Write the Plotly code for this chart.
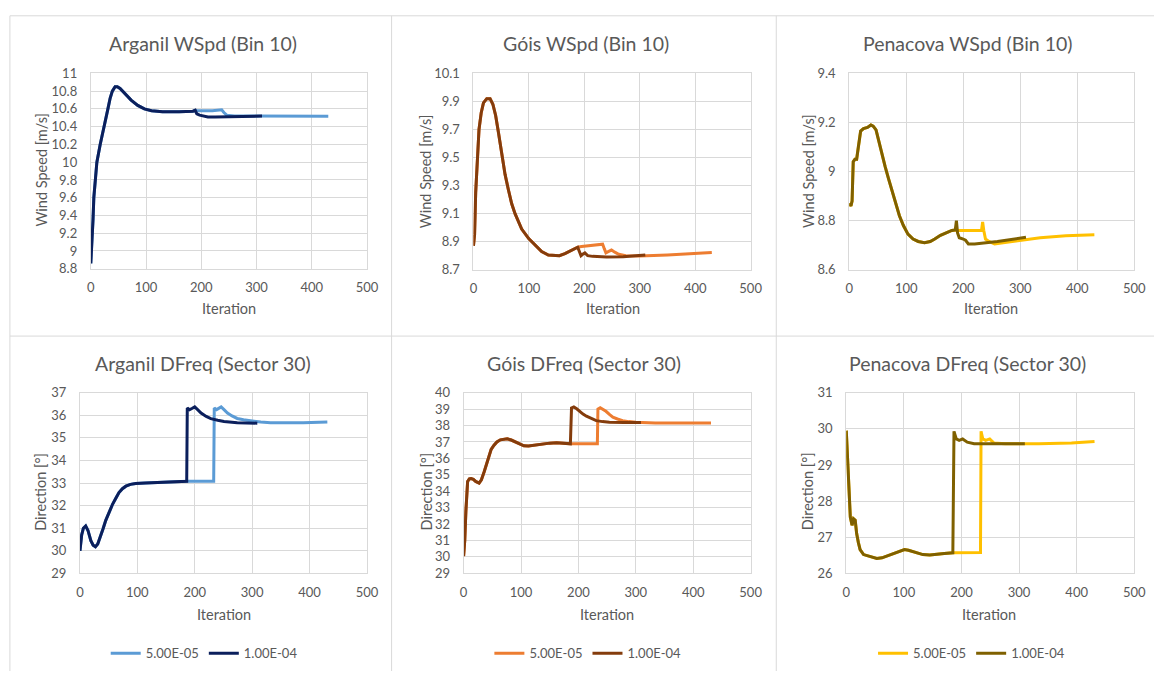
import plotly.graph_objects as go

W, H = 1166, 679

# ---------------- data ----------------
series_names = ["5.00E-05", "1.00E-04"]

# Arganil WSpd (Bin 10)
arg_ws_x = [0, 2, 4, 5.5, 8, 11, 17, 20, 24, 31, 35, 39, 44, 48, 53, 58, 65, 73, 85, 97, 110, 130, 160, 185, 189]
arg_ws_y = [8.86, 9.05, 9.35, 9.6, 9.8, 10.0, 10.2, 10.28, 10.4, 10.6, 10.72, 10.8, 10.85, 10.85, 10.83, 10.8,
            10.75, 10.7, 10.64, 10.6, 10.58, 10.568, 10.568, 10.575, 10.585]
arg_ws_lo_x = [192, 220, 233, 237, 241, 246, 260, 300, 350, 400, 430]
arg_ws_lo_y = [10.58, 10.58, 10.582, 10.59, 10.56, 10.53, 10.52, 10.52, 10.52, 10.518, 10.518]
arg_ws_hi_x = [192, 197, 205, 212, 225, 250, 280, 310]
arg_ws_hi_y = [10.545, 10.53, 10.52, 10.51, 10.51, 10.515, 10.52, 10.52]

# Góis WSpd (Bin 10)
gois_ws_x = [0, 2, 4, 7, 10, 14, 18, 24, 30, 35, 40, 45, 51, 57, 63, 69, 75, 87, 100, 112, 123, 135, 146, 155,
             165, 175, 183, 188]
gois_ws_y = [8.87, 8.95, 9.25, 9.5, 9.7, 9.82, 9.89, 9.92, 9.92, 9.88, 9.8, 9.68, 9.52, 9.38, 9.27, 9.17, 9.1,
             8.99, 8.92, 8.87, 8.83, 8.805, 8.8, 8.8, 8.815, 8.835, 8.85, 8.86]
gois_ws_lo_x = [195, 210, 233, 236, 239, 244, 249, 255, 262, 275, 300, 350, 400, 430]
gois_ws_lo_y = [8.865, 8.873, 8.882, 8.85, 8.82, 8.83, 8.84, 8.825, 8.81, 8.8, 8.797, 8.805, 8.815, 8.822]
gois_ws_hi_x = [190, 194, 197, 201, 206, 215, 240, 270, 310]
gois_ws_hi_y = [8.84, 8.8, 8.81, 8.82, 8.8, 8.795, 8.79, 8.792, 8.805]

# Penacova WSpd (Bin 10)
pen_ws_x = [0, 3, 5, 7, 10, 13, 16, 20, 25, 32, 38, 42, 47, 52, 57, 63, 69, 75, 81, 88, 95, 103, 112, 121, 132,
            142, 150, 160, 170, 180, 186]
pen_ws_y = [8.87, 8.86, 8.88, 9.04, 9.05, 9.05, 9.1, 9.165, 9.175, 9.18, 9.19, 9.185, 9.17, 9.12, 9.07, 9.02,
            8.97, 8.92, 8.87, 8.82, 8.78, 8.745, 8.725, 8.715, 8.71, 8.715, 8.725, 8.74, 8.75, 8.76, 8.762]
pen_ws_lo_x = [190, 232, 234, 236, 239, 245, 255, 270, 300, 335, 380, 430]
pen_ws_lo_y = [8.76, 8.76, 8.795, 8.76, 8.725, 8.715, 8.705, 8.71, 8.72, 8.73, 8.738, 8.742]
pen_ws_hi_x = [188, 190, 193, 200, 204, 209, 220, 260, 310]
pen_ws_hi_y = [8.8, 8.75, 8.73, 8.725, 8.72, 8.705, 8.705, 8.715, 8.732]

# Arganil DFreq (Sector 30)
arg_df_x = [0, 3, 6, 10, 14, 19, 23, 27, 31, 35, 40, 45, 51, 57, 63, 68, 74, 80, 88, 97, 114, 148, 186]
arg_df_y = [30.0, 30.7, 31.0, 31.1, 30.9, 30.45, 30.25, 30.18, 30.3, 30.55, 30.95, 31.35, 31.75, 32.07, 32.35,
            32.58, 32.75, 32.86, 32.94, 32.98, 33.0, 33.04, 33.08]
arg_df_lo_x = [233, 234, 238, 242, 246, 251, 257, 265, 274, 285, 297, 315, 332, 360, 389, 431]
arg_df_lo_y = [33.08, 36.32, 36.25, 36.3, 36.37, 36.25, 36.1, 35.97, 35.86, 35.8, 35.75, 35.7, 35.67, 35.66,
               35.67, 35.7]
arg_df_hi_x = [187, 191, 195, 200, 205, 211, 220, 228, 240, 251, 274, 309]
arg_df_hi_y = [36.32, 36.25, 36.3, 36.37, 36.25, 36.1, 35.95, 35.85, 35.78, 35.73, 35.67, 35.65]

# Góis DFreq (Sector 30)
gois_df_x = [0, 2, 4, 7, 10, 13, 17, 21, 27, 31, 36, 40, 44, 48, 53, 58, 64, 70, 76, 83, 90, 97, 105, 113, 122,
             130, 139, 150, 162, 175, 186]
gois_df_y = [30.05, 31.0, 32.8, 34.6, 34.75, 34.77, 34.72, 34.6, 34.5, 34.7, 35.2, 35.7, 36.2, 36.55, 36.8, 37.0,
             37.13, 37.18, 37.19, 37.12, 37.0, 36.86, 36.77, 36.75, 36.79, 36.85, 36.9, 36.93, 36.95, 36.92, 36.89]
gois_df_lo_x = [233, 234, 238, 243, 248, 254, 260, 268, 277, 288, 300, 334, 392, 431]
gois_df_lo_y = [36.89, 39.0, 39.09, 39.0, 38.87, 38.68, 38.51, 38.4, 38.3, 38.24, 38.2, 38.16, 38.16, 38.16]
gois_df_hi_x = [188, 192, 197, 202, 208, 214, 222, 231, 242, 254, 280, 309]
gois_df_hi_y = [39.07, 39.13, 39.02, 38.87, 38.7, 38.57, 38.42, 38.3, 38.24, 38.2, 38.18, 38.18]

# Penacova DFreq (Sector 30)
pen_df_x = [0, 2, 4, 7, 10, 12.6, 15.5, 18, 21, 24, 30, 41, 53, 62, 70, 80, 87, 95, 101, 108, 116, 125, 133,
            145, 156, 170, 185]
pen_df_y = [29.95, 29.2, 28.46, 27.56, 27.33, 27.51, 27.47, 27.1, 26.85, 26.66, 26.52, 26.46, 26.41, 26.43,
            26.48, 26.55, 26.59, 26.64, 26.66, 26.64, 26.6, 26.55, 26.52, 26.51, 26.52, 26.55, 26.57]
pen_df_lo_x = [233, 234, 237, 242, 249, 256, 276, 334, 391, 431]
pen_df_lo_y = [26.58, 29.93, 29.72, 29.68, 29.72, 29.61, 29.59, 29.59, 29.61, 29.65]
pen_df_hi_x = [187, 191, 196, 202, 210, 222, 248, 310]
pen_df_hi_y = [29.93, 29.72, 29.68, 29.72, 29.63, 29.59, 29.59, 29.59]

titles = ["Arganil WSpd (Bin 10)", "Góis WSpd (Bin 10)", "Penacova WSpd (Bin 10)",
          "Arganil DFreq (Sector 30)", "Góis DFreq (Sector 30)", "Penacova DFreq (Sector 30)"]
y_titles = ["Wind Speed [m/s]"] * 3 + ["Direction [°]"] * 3
x_title = "Iteration"
y_ranges = [(8.8, 11.0), (8.7, 10.1), (8.6, 9.4), (29, 37), (29, 40), (26, 31)]
y_dticks = [0.2, 0.2, 0.2, 1, 1, 1]
x_range = (0, 500)
x_dtick = 100

colors = [("#5B9BD5", "#0B1F5C"), ("#ED7D31", "#843C0C"), ("#FFC000", "#7F6000")] * 2

panel_data = [
    (arg_ws_x, arg_ws_y, arg_ws_lo_x, arg_ws_lo_y, arg_ws_hi_x, arg_ws_hi_y),
    (gois_ws_x, gois_ws_y, gois_ws_lo_x, gois_ws_lo_y, gois_ws_hi_x, gois_ws_hi_y),
    (pen_ws_x, pen_ws_y, pen_ws_lo_x, pen_ws_lo_y, pen_ws_hi_x, pen_ws_hi_y),
    (arg_df_x, arg_df_y, arg_df_lo_x, arg_df_lo_y, arg_df_hi_x, arg_df_hi_y),
    (gois_df_x, gois_df_y, gois_df_lo_x, gois_df_lo_y, gois_df_hi_x, gois_df_hi_y),
    (pen_df_x, pen_df_y, pen_df_lo_x, pen_df_lo_y, pen_df_hi_x, pen_df_hi_y),
]

# ---------------- layout geometry (pixels) ----------------
plot_boxes = [  # left, right, top, bottom
    (88, 368, 67, 267), (476, 757, 67, 268), (857, 1146, 67, 268),
    (77, 368, 394, 579), (466, 757, 394, 579), (854, 1146, 394, 579),
]
title_pos = [(202, 36), (590, 36), (977, 36), (202, 364), (588, 364), (977, 364)]
ytitle_pos = [(38, 165), (427, 167), (815, 167), (37, 495), (428, 495), (815, 495)]
xtitle_pos = [(228, 308), (617, 308), (1001, 308), (223, 621), (611, 621), (999, 621)]
legend_pos = [(203, 661), (592, 661), (981, 661)]

FONT = "Lato, 'Open Sans', sans-serif"
TXT = "#595959"
GRID = "#D9D9D9"


def px(x):
    return x / W


def py(y):
    return 1 - y / H


fig = go.Figure()
layout = dict(
    width=W, height=H, margin=dict(l=0, r=0, t=0, b=0),
    paper_bgcolor="white", plot_bgcolor="white",
    font=dict(family=FONT, color=TXT),
    annotations=[], shapes=[],
)

legend_keys = [None, None, None, "legend", "legend2", "legend3"]

for i in range(6):
    n = "" if i == 0 else str(i + 1)
    l, r, t, b = plot_boxes[i]
    cx, cy, lox, loy, hix, hiy = panel_data[i]
    light, dark = colors[i]
    for name, xs, ys, col in ((series_names[0], cx + lox, cy + loy, light),
                              (series_names[1], cx + hix, cy + hiy, dark)):
        tr = dict(x=xs, y=ys, mode="lines", name=name,
                  line=dict(color=col, width=3), xaxis="x" + n, yaxis="y" + n,
                  hoverinfo="skip")
        if legend_keys[i] is None:
            tr["showlegend"] = False
        else:
            tr["showlegend"] = True
            tr["legend"] = legend_keys[i]
        fig.add_trace(go.Scatter(**tr))

    common_axis = dict(showgrid=True, gridcolor=GRID, gridwidth=1, zeroline=False,
                       showline=True, linecolor=GRID, linewidth=1, mirror=True,
                       ticks="outside", tickcolor="rgba(0,0,0,0)",
                       tickfont=dict(size=13, color=TXT, family=FONT), fixedrange=True)
    layout["xaxis" + n] = dict(common_axis, domain=[px(l), px(r)], range=list(x_range), ticklen=7,
                               dtick=x_dtick, tick0=0, anchor="y" + n)
    lo, hi = y_ranges[i]
    layout["yaxis" + n] = dict(common_axis, domain=[py(b), py(t)], range=[lo, hi], ticklen=10,
                               dtick=y_dticks[i], tick0=lo, anchor="x" + n)

    tx, ty = title_pos[i]
    layout["annotations"].append(dict(text=titles[i], x=px(tx), y=py(ty), xref="paper", yref="paper",
                                      showarrow=False, xanchor="center", yanchor="middle",
                                      font=dict(size=19.5, color=TXT, family=FONT)))
    yx, yy = ytitle_pos[i]
    layout["annotations"].append(dict(text=y_titles[i], x=px(yx), y=py(yy), xref="paper", yref="paper",
                                      showarrow=False, xanchor="center", yanchor="middle", textangle=-90,
                                      font=dict(size=14.5, color=TXT, family=FONT)))
    xx, xy = xtitle_pos[i]
    layout["annotations"].append(dict(text=x_title, x=px(xx), y=py(xy), xref="paper", yref="paper",
                                      showarrow=False, xanchor="center", yanchor="middle",
                                      font=dict(size=14.5, color=TXT, family=FONT)))

for k, key in enumerate(["legend", "legend2", "legend3"]):
    lx, ly = legend_pos[k]
    layout[key] = dict(orientation="h", x=px(lx), y=py(ly), xanchor="center", yanchor="middle",
                       xref="paper", yref="paper", bgcolor="rgba(0,0,0,0)",
                       font=dict(size=13, color=TXT, family=FONT), itemwidth=30,
                       tracegroupgap=0)

# panel frame lines
frame = [
    (6, 8, 1166, 8), (6, 336, 1166, 336),
    (6, 8, 6, 679), (393, 8, 393, 679), (783, 8, 783, 679),
]
for x0, y0, x1, y1 in frame:
    layout["shapes"].append(dict(type="line", xref="paper", yref="paper",
                                 x0=px(x0), y0=py(y0), x1=px(x1), y1=py(y1),
                                 line=dict(color=GRID, width=1)))

fig.update_layout(**layout)
fig.write_html("out.html")
